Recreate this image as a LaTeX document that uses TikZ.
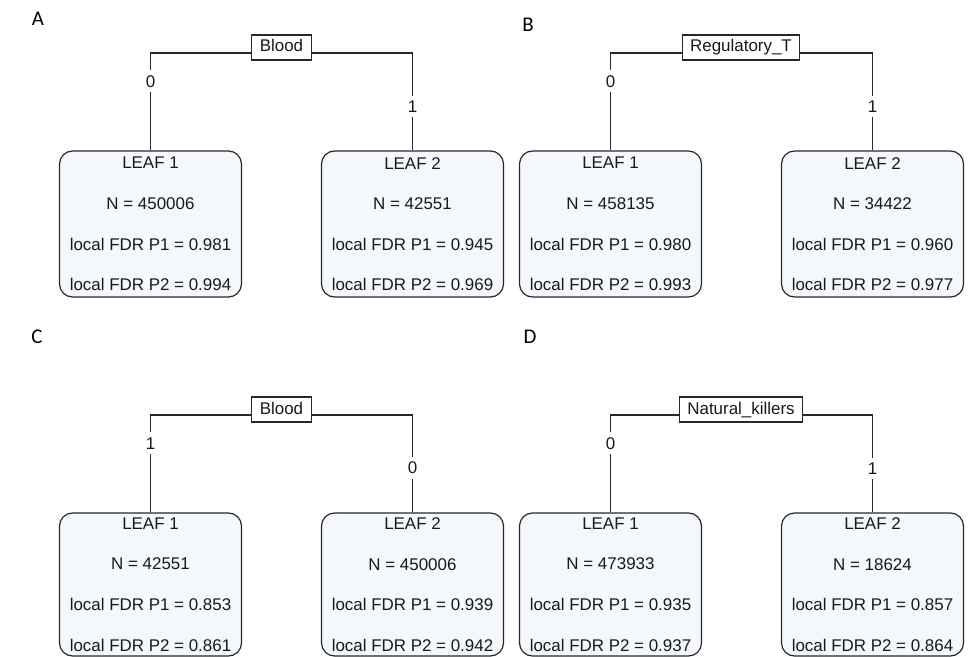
\documentclass[tikz,border=0pt]{standalone}
\usepackage{fontspec}
\setmainfont{Liberation Sans}
\newfontfamily\letterfont{Carlito}
\definecolor{leafbg}{RGB}{244,248,252}
\definecolor{ink}{RGB}{40,40,40}
\begin{document}
\begin{tikzpicture}[x=1bp,y=-1bp,
  leaf/.style={draw=ink, line width=1.2bp, rounded corners=13bp, fill=leafbg,
    minimum width=182bp, minimum height=146bp, align=center, inner sep=0pt,
    text=black!90, font=\fontsize{17}{40.7}\selectfont},
  leafcut/.style={leaf, minimum height=143bp},
  split/.style={draw=ink, line width=1.1bp, fill=white, inner xsep=8bp, inner ysep=0pt,
    minimum height=25bp, text height=12.5bp, text depth=3.5bp,
    text=black!90, font=\fontsize{17}{20}\selectfont},
  edge/.style={draw=ink, line width=1.3bp},
  elabel/.style={fill=white, inner xsep=1bp, inner ysep=5bp, text=black!90,
    font=\fontsize{17}{20}\selectfont},
  plabel/.style={inner sep=0pt, font=\letterfont\fontsize{21}{24}\selectfont}]
\useasboundingbox (0,0) rectangle (969,657);

% panel letters
\node[plabel] (pA) at (38,19) {A};
\node[plabel] (pB) at (528,25) {B};
\node[plabel] (pC) at (37,337) {C};
\node[plabel] (pD) at (530,337) {D};

% ---------- Panel A ----------
\node[split] (sA) at (281.5,47.5) {Blood};
\coordinate (jA) at (281.5,53);
\node[leaf] (lA1) at (150.5,224) {LEAF 1\\N = 450006\\local FDR P1 = 0.981\\local FDR P2 = 0.994};
\node[leaf] (lA2) at (412.5,224) {LEAF 2\\N = 42551\\local FDR P1 = 0.945\\local FDR P2 = 0.969};
\draw[edge] (sA.west |- jA) -- (lA1.north |- jA) -- node[elabel,pos=0.29]{0} (lA1.north);
\draw[edge] (sA.east |- jA) -- (lA2.north |- jA) -- node[elabel,pos=0.55]{1} (lA2.north);

% ---------- Panel B ----------
\node[split] (sB) at (741,47.5) {Regulatory\_T};
\coordinate (jB) at (741,53);
\node[leaf] (lB1) at (610.5,224) {LEAF 1\\N = 458135\\local FDR P1 = 0.980\\local FDR P2 = 0.993};
\node[leaf] (lB2) at (872.5,224) {LEAF 2\\N = 34422\\local FDR P1 = 0.960\\local FDR P2 = 0.977};
\draw[edge] (sB.west |- jB) -- (lB1.north |- jB) -- node[elabel,pos=0.29]{0} (lB1.north);
\draw[edge] (sB.east |- jB) -- (lB2.north |- jB) -- node[elabel,pos=0.55]{1} (lB2.north);

% ---------- Panel C ----------
\node[split] (sC) at (281.5,409.5) {Blood};
\coordinate (jC) at (281.5,415);
\node[leafcut] (lC1) at (150.5,584.5) {LEAF 1\\N = 42551\\local FDR P1 = 0.853\\local FDR P2 = 0.861};
\node[leafcut] (lC2) at (412.5,584.5) {LEAF 2\\N = 450006\\local FDR P1 = 0.939\\local FDR P2 = 0.942};
\draw[edge] (sC.west |- jC) -- (lC1.north |- jC) -- node[elabel,pos=0.29]{1} (lC1.north);
\draw[edge] (sC.east |- jC) -- (lC2.north |- jC) -- node[elabel,pos=0.54]{0} (lC2.north);

% ---------- Panel D ----------
\node[split] (sD) at (741,409.5) {Natural\_killers};
\coordinate (jD) at (741,415);
\node[leafcut] (lD1) at (610.5,584.5) {LEAF 1\\N = 473933\\local FDR P1 = 0.935\\local FDR P2 = 0.937};
\node[leafcut] (lD2) at (872.5,584.5) {LEAF 2\\N = 18624\\local FDR P1 = 0.857\\local FDR P2 = 0.864};
\draw[edge] (sD.west |- jD) -- (lD1.north |- jD) -- node[elabel,pos=0.29]{0} (lD1.north);
\draw[edge] (sD.east |- jD) -- (lD2.north |- jD) -- node[elabel,pos=0.55]{1} (lD2.north);
\end{tikzpicture}
\end{document}
